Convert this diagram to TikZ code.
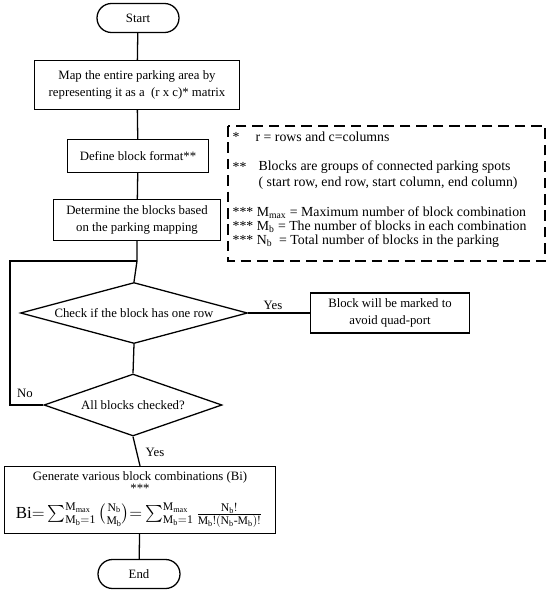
\documentclass[tikz,border=0pt]{standalone}
\usepackage{fontspec}
\setmainfont{Liberation Serif}
\usepackage{amsmath}
\usetikzlibrary{shapes.geometric,shapes.misc}

\begin{document}
\begin{tikzpicture}[x=0.03cm,y=-0.03cm,line width=1.1pt,
  font=\fontsize{10.9}{14}\selectfont,
  term/.style={draw,rounded rectangle,minimum width=82*\px,minimum height=29*\px,inner sep=0pt},
  proc/.style={draw,rectangle,align=center,inner sep=0pt},
  dec/.style={draw,diamond,inner sep=0pt,align=center},
  note/.style={anchor=west,inner sep=0pt,font=\fontsize{11.8}{13}\selectfont},
  lbl/.style={inner sep=0pt}]
\def\px{0.03cm} % one pixel of the reference
\useasboundingbox (0,0) rectangle (550,591);
% ---- main column ----
\node[term] (start) at (138,18) {Start};
\node[proc,minimum width=205*\px,minimum height=49*\px] (map) at (137,85)
  {Map the entire parking area by\\representing it as a \ (r x c)* matrix};
\node[proc,minimum width=141*\px,minimum height=33*\px] (fmt) at (138,156) {Define block format**};
\node[proc,minimum width=167*\px,minimum height=41*\px] (det) at (137,220)
  {Determine the blocks based\\on the parking mapping};
\coordinate (jn) at (137,261);
\node[dec,aspect=3.7,minimum width=227*\px,minimum height=61*\px] (chk) at (134,313)
  {Check if the block has one row};
\node[proc,minimum width=159*\px,minimum height=40*\px] (mark) at (390,313)
  {Block will be marked to\\avoid quad-port};
\node[dec,aspect=2.9,minimum width=178*\px,minimum height=62*\px] (all) at (133,405)
  {All blocks checked?};
\node[proc,minimum width=271*\px,minimum height=67*\px] (gen) at (140,500) {};
\node[lbl] (gent) at (140,477) {Generate various block combinations (Bi)};
\node[lbl] (gens) at (140,488) {***};
\node[lbl] (genf) at (139,515)
  {\Large$\mathrm{Bi}{=}\sum\nolimits_{\mathrm{M_b=1}}^{\mathrm{M_{max}}}\binom{\mathrm{N_b}}{\mathrm{M_b}}
   {=}\sum\nolimits_{\mathrm{M_b=1}}^{\mathrm{M_{max}}}\frac{\mathrm{N_b!}}{\mathrm{M_b!(N_b\text{-}M_b)!}}$};
\node[term] (end) at (139,574) {End};
% ---- connectors ----
\draw (start) -- (map);
\draw (map) -- (fmt);
\draw (fmt) -- (det);
\draw (det) -- (jn) -- (chk.north);
\draw (chk.east) -- (mark.west);
\draw (chk.south) -- (all.north);
\coordinate (lp) at (10,261);
\draw (all.west) -| (lp) -- (jn);
\draw (all.south) -- (gen.north);
\draw (gen) -- (end);
\node[lbl] (yes1) at (273,305) {Yes};
\node[lbl] (no) at (25,393) {No};
\node[lbl] (yes2) at (155,452) {Yes};
% ---- legend ----
\draw[line width=1.6pt,dash pattern=on 9pt off 5pt] (228,126) rectangle (545,261);
\node[note] at (232,137) {*};
\node[note] at (255,137) {r = rows and c=columns};
\node[note] at (232,167) {**};
\node[note] at (258,167) {Blocks are groups of connected parking spots};
\node[note] at (258,183) {( start row, end row, start column, end column)};
\node[note] at (232,213) {*** M\textsubscript{max} = Maximum number of block combination};
\node[note] at (232,227) {*** M\textsubscript{b} = The number of blocks in each combination};
\node[note] at (232,241) {*** N\textsubscript{b} \ = Total number of blocks in the parking};
\end{tikzpicture}
\end{document}
